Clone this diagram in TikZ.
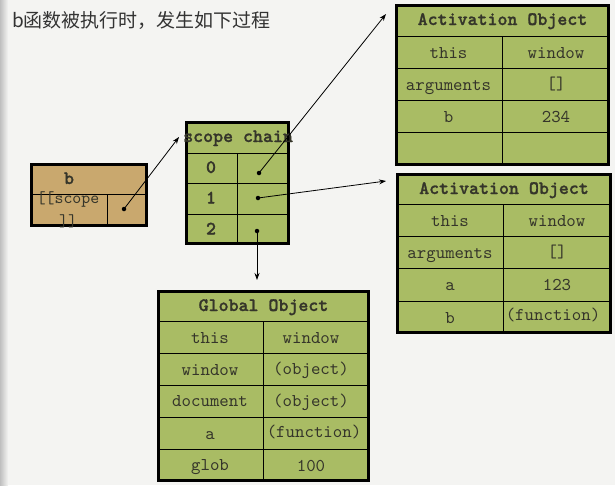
\documentclass[tikz,border=0pt]{standalone}
\usepackage{fontspec}
\setmonofont{lmmono10-regular.otf}[BoldFont=lmmonolt10-bold.otf, BoldFeatures={FakeBold=1.2}]
\newfontfamily\cjk{Noto Sans CJK SC}
\usetikzlibrary{arrows.meta}
\definecolor{bg}{HTML}{F4F4F2}
\definecolor{tblgreen}{HTML}{A9BC64}
\definecolor{tbltan}{HTML}{C9A86E}
\definecolor{txt}{HTML}{35352A}
\begin{document}
\begin{tikzpicture}[x=1pt,y=-1pt,
  frame/.style={draw=black, line width=3pt},
  gridline/.style={draw=black, line width=1pt},
  cell/.style={font=\ttfamily\fontsize{18}{20}\selectfont, text=txt, inner sep=0pt, text height=11pt, text depth=3pt},
  head/.style={font=\ttfamily\bfseries\fontsize{19}{21}\selectfont, text=txt, inner sep=0pt, text height=11pt, text depth=3pt},
  dot/.style={circle, fill=black, inner sep=0pt, minimum size=4.5pt},
  link/.style={-{Stealth[length=7pt,width=5pt]}, line width=0.8pt}]
% background
\fill[bg] (0,0) rectangle (615,485);
\shade[left color=black!25, right color=bg] (0,0) rectangle (8,485);
\useasboundingbox (0,0) rectangle (615,485);

% title
\node[anchor=west, font=\cjk\fontsize{19}{22}\selectfont, text=black!80, inner sep=0pt] (title) at (12,20) {b函数被执行时，发生如下过程};

% box b
\filldraw[fill=tbltan, frame] (31.5,164.5) rectangle (146.5,225.5);
\draw[gridline] (31.5,194) -- (146.5,194);
\draw[gridline] (107,194) -- (107,225.5);
\node[head] (bname) at (69,180) {b};
\node[font=\ttfamily\fontsize{17}{23}\selectfont, text=txt, align=center, inner sep=0pt] (bscope) at (68,210) {[[scope\\]]};
\node[dot] (bdot) at (124,209) {};

% scope chain
\filldraw[fill=tblgreen, frame] (186.5,122.5) rectangle (288.5,243.5);
\draw[gridline] (186.5,153) -- (288.5,153);
\draw[gridline] (186.5,183) -- (288.5,183);
\draw[gridline] (186.5,214) -- (288.5,214);
\draw[gridline] (237,153) -- (237,243.5);
\node[head, anchor=west] (schead) at (183,138) {scope chain};
\node[head] (s0) at (211,169) {0};
\node[head] (s1) at (211,199.5) {1};
\node[head] (s2) at (211,230.5) {2};
\node[dot] (d0) at (259,173) {};
\node[dot] (d1) at (258,198) {};
\node[dot] (d2) at (257,231) {};

% Activation Object 1
\filldraw[fill=tblgreen, frame] (396.5,5.5) rectangle (608.5,164.5);
\foreach \yy in {36,68,100,132} \draw[gridline] (396.5,\yy) -- (608.5,\yy);
\draw[gridline] (502,36) -- (502,164.5);
\node[head] (ao1h) at (502.5,21) {Activation Object};
\node[cell] (ao1a) at (448.5,54) {this};
\node[cell] (ao1b) at (556,54) {window};
\node[cell] (ao1c) at (448.5,86) {arguments};
\node[cell] (ao1d) at (556,85) {[]};
\node[cell] (ao1e) at (448.5,118) {b};
\node[cell] (ao1f) at (556,118) {234};

% Activation Object 2
\filldraw[fill=tblgreen, frame] (397.5,174.5) rectangle (610.5,332.5);
\foreach \yy in {204,236,268,301} \draw[gridline] (397.5,\yy) -- (610.5,\yy);
\draw[gridline] (503,204) -- (503,332.5);
\node[head] (ao2h) at (504,190) {Activation Object};
\node[cell] (ao2a) at (450,222) {this};
\node[cell] (ao2b) at (557,222) {window};
\node[cell] (ao2c) at (450,254) {arguments};
\node[cell] (ao2d) at (557,253) {[]};
\node[cell] (ao2e) at (450,286) {a};
\node[cell] (ao2f) at (557,286) {123};
\node[cell] (ao2g) at (450,319) {b};
\node[cell] (ao2i) at (553,316) {(function)};

% Global Object
\filldraw[fill=tblgreen, frame] (158.5,291.5) rectangle (368.5,480.5);
\foreach \yy in {321,353,385,417,449} \draw[gridline] (158.5,\yy) -- (368.5,\yy);
\draw[gridline] (263,321) -- (263,480.5);
\node[head] (goh) at (263.5,307) {Global Object};
\node[cell] (goa) at (210,339) {this};
\node[cell] (gob) at (311,339) {window};
\node[cell] (goc) at (210,371) {window};
\node[cell] (god) at (311,370) {(object)};
\node[cell] (goe) at (210,402) {document};
\node[cell] (gof) at (311,402) {(object)};
\node[cell] (gog) at (210,435) {a};
\node[cell] (goi) at (314,433) {(function)};
\node[cell] (goj) at (210,466) {glob};
\node[cell] (gok) at (311,467) {100};

% connectors
\coordinate (tb) at (179,137);
\coordinate (t0) at (386,14);
\coordinate (t1) at (386,181);
\coordinate (t2) at (257,280);
\draw[link] (bdot.center) -- (tb);
\draw[link] (d0.center) -- (t0);
\draw[link] (d1.center) -- (t1);
\draw[link] (d2.center) -- (t2);
\end{tikzpicture}
\end{document}
